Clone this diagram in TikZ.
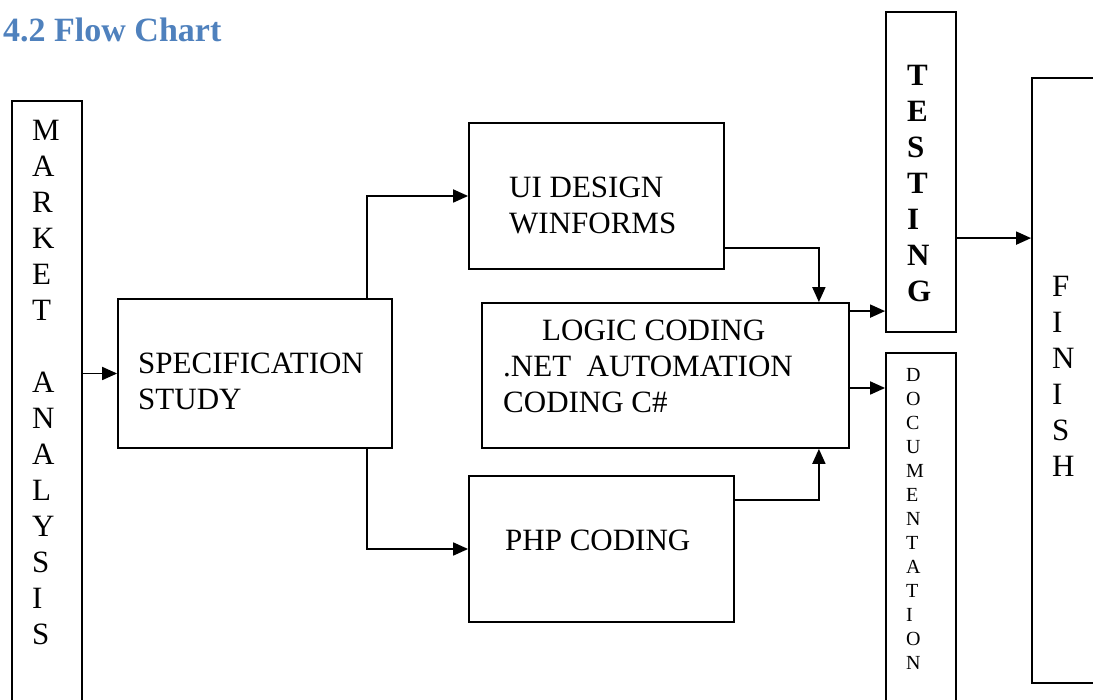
\documentclass[tikz,border=0pt]{standalone}
\usepackage{fontspec}
\setmainfont{Liberation Serif}
\usetikzlibrary{arrows.meta}
\definecolor{headblue}{RGB}{79,129,189}

\begin{document}
\begin{tikzpicture}[x=1pt, y=-1pt,
	box/.style={draw, rectangle, line width=1.8pt, inner sep=0pt},
	txt/.style={inner sep=0pt, anchor=north west, align=left, font=\fontsize{31}{36}\selectfont},
	smalltxt/.style={txt, font=\fontsize{20}{24}\selectfont},
	flow/.style={line width=1.8pt, -{Triangle[length=15pt,width=13pt]}}]

	\clip (0,0) rectangle (1093,700);

	\node (title) [anchor=base west, inner sep=0pt, text=headblue, font=\fontsize{34}{40}\selectfont\bfseries] at (3,42) {4.2 Flow Chart};

	% boxes
	\node (market) [box, minimum width=70pt, minimum height=624pt] at (47,413) {};
	\node (spec) [box, minimum width=274pt, minimum height=149pt] at (255,373.5) {};
	\node (ui) [box, minimum width=255pt, minimum height=146pt] at (596.5,196) {};
	\node (logic) [box, minimum width=367pt, minimum height=145pt] at (665.5,375.5) {};
	\node (php) [box, minimum width=265pt, minimum height=146pt] at (601.5,549) {};
	\node (testing) [box, minimum width=70pt, minimum height=320pt] at (921,172) {};
	\node (doc) [box, minimum width=70pt, minimum height=372pt] at (921,539) {};
	\node (finish) [box, minimum width=70pt, minimum height=605pt] at (1067,380.5) {};

	% texts
	\node (markettxt) [txt] at (32,120) {M\\A\\R\\K\\E\\T\\[36pt]A\\N\\A\\L\\Y\\S\\I\\S};
	\node (spectxt) [txt] at (138,352.5) {SPECIFICATION\\STUDY};
	\node (uitxt) [txt] at (509,176.5) {UI DESIGN\\WINFORMS};
	\node (logictxt) [txt] at (503,319.5) {\hspace*{39pt}LOGIC CODING\\.NET\ \ AUTOMATION\\CODING C\#};
	\node (phptxt) [txt] at (505,529.5) {PHP CODING};
	\node (testingtxt) [txt, font=\fontsize{31}{36}\selectfont\bfseries] at (907,65.5) {T\\E\\S\\T\\I\\N\\G};
	\node (doctxt) [smalltxt] at (906,368.5) {D\\O\\C\\U\\M\\E\\N\\T\\A\\T\\I\\O\\N};
	\node (finishtxt) [txt] at (1052,276.5) {F\\I\\N\\I\\S\\H};

	% connectors
	\coordinate (lt) at ([yshift=-9pt]logic.north east);
	\coordinate (ld) at ([yshift=-12.5pt]logic.east);
	\coordinate (tf) at ([yshift=-227pt]testing.north east);
	\draw[flow] (market.east |- spec.west) -- (spec.west);
	\draw[flow] ([xshift=-26pt]spec.north east) |- (ui.west);
	\draw[flow] ([xshift=-26pt]spec.south east) |- (php.west);
	\draw[flow] ([yshift=22pt]ui.south east) -| ([xshift=-31pt]logic.north east);
	\draw[flow] ([yshift=-25pt]php.north east) -| ([xshift=-31pt]logic.south east);
	\draw[flow] (lt) -- (lt -| testing.west);
	\draw[flow] (ld) -- (ld -| doc.west);
	\draw[flow] (tf) -- (tf -| finish.west);

\end{tikzpicture}
\end{document}
